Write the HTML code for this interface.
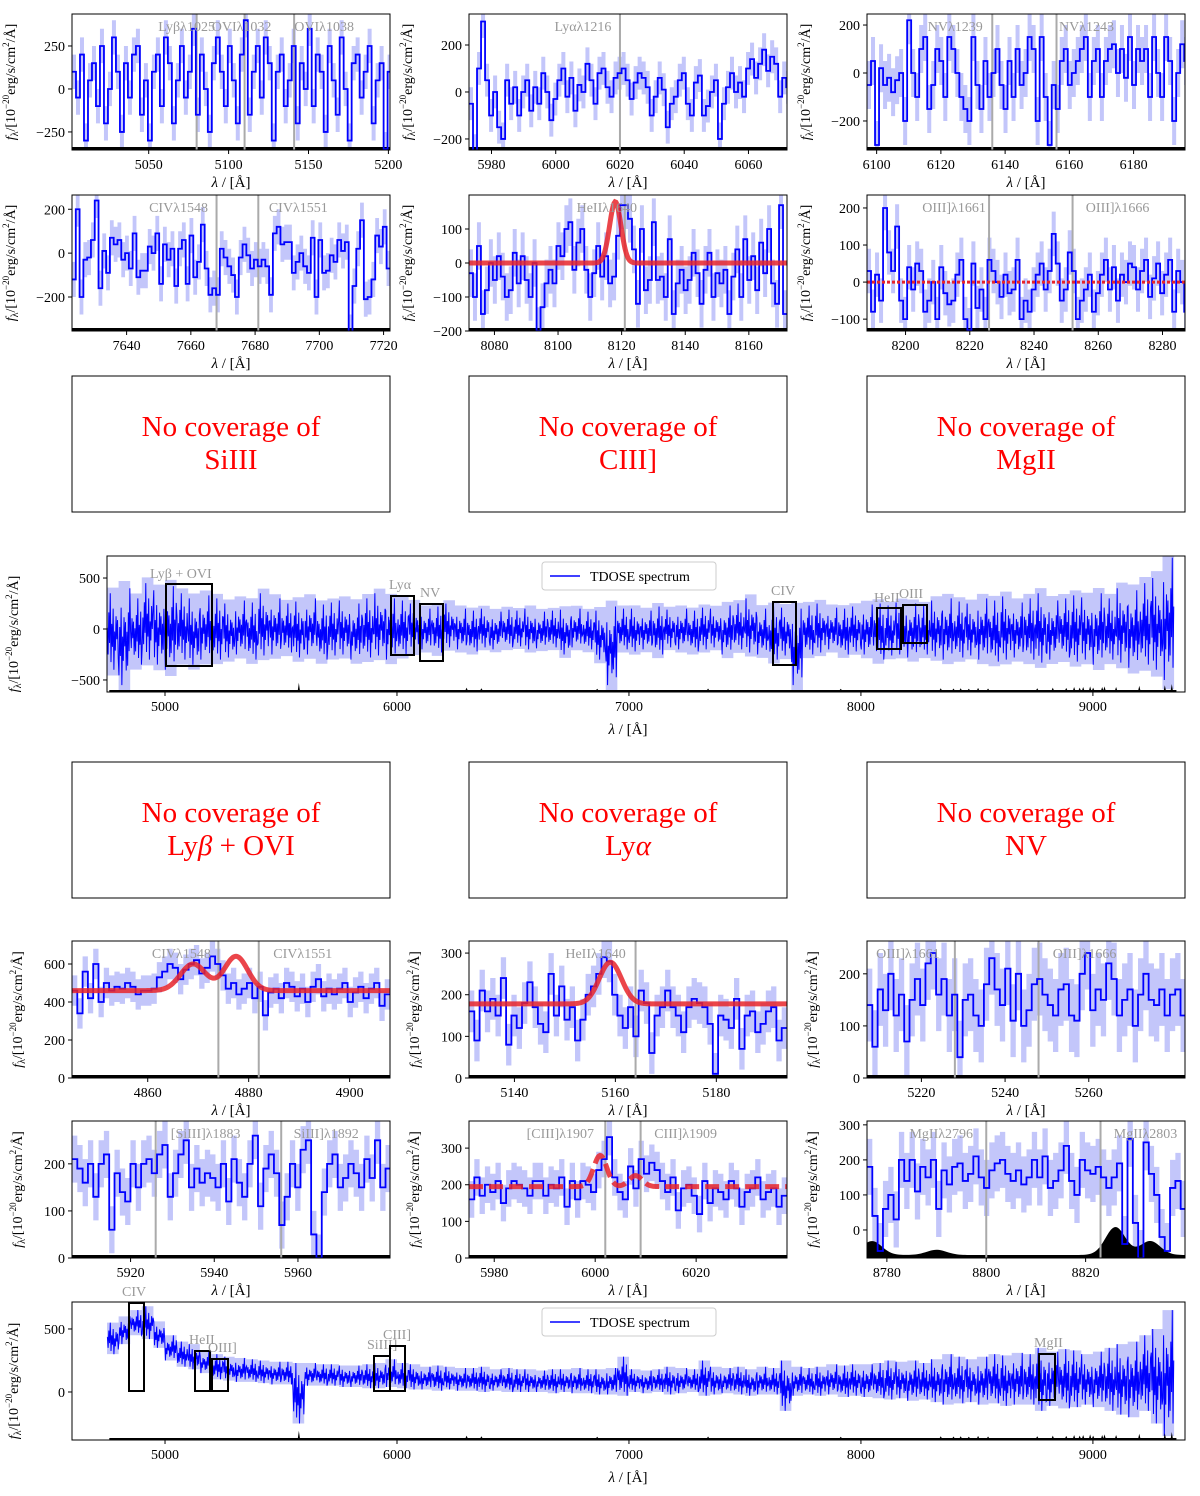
<!DOCTYPE html>
<html><head><meta charset="utf-8">
<style>
html,body{margin:0;padding:0;background:#fff;}
svg text{font-family:"Liberation Serif",serif;}
</style></head>
<body>
<svg id="fig" xmlns="http://www.w3.org/2000/svg" width="1200" height="1491" viewBox="0 0 1200 1491"></svg>
<script>
// ---------- data ----------
const p1Flux=[100,-50,200,-300,50,150,-100,250,-200,0,300,100,-250,150,-50,200,250,-150,50,-300,100,200,-100,300,150,-200,50,250,-50,100,350,-150,200,0,-250,150,300,100,-100,250,50,-200,200,400,-150,100,250,-50,300,150,-300,100,200,-100,50,250,-200,150,0,350,-100,200,100,-250,250,50,-150,300,0,-300,150,200,-50,100,250,-200,50,150,-350,100];
const p2Flux=[-50,-250,100,300,50,-100,0,-150,-200,50,-50,20,-100,0,50,-80,20,-50,80,0,-120,-30,50,100,-20,60,-80,30,0,120,50,-50,80,100,20,-20,60,80,100,50,-30,40,80,60,20,-100,-20,60,10,-150,-50,-20,50,80,-50,-100,40,70,-100,-60,0,50,-200,-50,20,80,0,40,-20,100,140,60,120,180,90,150,120,-20,60,20];
const p3Flux=[-50,50,-300,20,-50,-20,-80,-30,0,-200,220,0,-100,100,150,-150,-50,100,50,-100,150,100,0,-100,-150,-200,150,-50,-150,50,-100,0,100,-50,-150,50,-100,100,-50,0,150,100,-200,150,-100,-300,-50,-150,50,100,-50,0,50,100,150,-100,50,100,-100,50,100,120,0,100,-20,150,-50,100,50,100,-100,150,0,-100,150,50,-200,0,120,50];
const p4Flux=[-120,200,-200,-30,-20,60,240,-160,10,-90,70,40,60,-30,0,-70,90,-110,-80,-80,30,0,90,-140,40,-30,20,-150,20,60,-140,80,-110,-40,130,-70,-190,-160,-190,20,-20,-60,-100,-200,-20,40,-10,-70,-30,-60,-30,-60,-190,90,120,40,50,50,-90,-40,0,-60,-90,70,-200,60,-90,-80,-10,-40,60,10,50,-360,-150,20,150,-210,-200,-120,80,30,120,-70];
const p5Flux=[-30,-100,50,-150,-80,0,-50,20,-40,-100,-80,30,-60,20,-50,-100,0,-200,-130,-60,-20,-60,50,20,100,120,-20,60,100,-20,-100,-30,50,-40,20,-60,-40,80,170,170,130,40,-120,100,-80,-50,120,-50,-40,-100,70,-150,-60,-20,-80,-50,30,-30,-120,-20,30,-100,-30,-60,-20,-150,-40,40,-100,70,-50,20,-80,60,-30,100,-60,-120,170,-150];
const p6Flux=[30,-80,20,-50,200,80,30,150,-50,-100,40,-20,50,30,-80,-50,0,-100,40,-30,-60,-50,20,60,-100,-130,50,-70,-20,-100,60,30,0,-40,20,-30,-20,60,-100,-50,-80,-20,20,50,-20,30,130,50,-50,-20,80,30,-100,-50,-20,20,-80,-30,20,60,-20,40,-50,20,0,50,40,-20,30,60,-40,10,50,-30,20,60,-80,30,0,-80];
const p7Flux=[460,340,560,420,600,400,500,460,480,470,500,480,440,460,460,470,530,560,600,580,520,570,600,620,550,580,640,600,540,470,500,440,470,500,420,480,330,450,470,420,500,480,430,470,400,480,520,430,470,440,470,500,400,450,480,420,470,500,380,440];
const p8Flux=[160,90,210,160,190,150,240,80,150,120,180,230,170,130,110,250,150,220,140,170,90,140,200,220,250,290,280,200,150,120,170,100,210,180,60,150,170,210,170,150,110,170,190,180,170,130,10,150,140,120,190,70,150,160,110,130,160,170,90,120];
const p9Flux=[140,60,170,130,200,120,160,70,150,190,140,220,240,160,190,120,160,40,150,160,120,100,180,230,170,140,210,110,200,100,130,180,190,160,140,120,170,180,120,110,200,240,130,170,150,220,190,120,150,170,100,160,200,150,140,170,120,160,170,120];
const p10Flux=[210,190,160,200,130,200,220,60,180,140,120,200,150,200,210,180,220,240,130,180,220,250,150,190,160,180,170,150,200,120,210,160,130,200,260,110,190,220,180,70,130,200,150,230,250,50,0,140,200,220,150,170,200,180,150,210,170,250,150,190];
const p11Flux=[160,220,170,200,180,210,150,190,210,200,190,170,210,210,170,200,190,220,140,210,160,210,200,180,240,270,330,220,180,160,250,190,270,230,260,240,210,180,220,130,190,200,170,120,210,150,190,180,160,210,190,140,180,190,220,160,180,190,140,170];
const p12Flux=[180,40,-60,60,100,30,200,140,200,110,180,150,200,60,170,130,180,190,140,160,210,150,120,170,190,200,160,140,170,130,150,200,150,210,120,140,170,240,140,100,200,170,160,180,150,120,150,190,-40,260,20,-80,250,160,100,-20,-60,120,140,60];
// gaussian model params: centre, amplitude, sigma
const p5Model={base:0,cen:[8118],amp:[180],sig:[1.8]};
const p7Model={base:460,cen:[4869,4877.5],amp:[140,180],sig:[2.5,2.3]};
const p8Model={base:178,cen:[5159],amp:[100],sig:[2.2]};
const p11Model={base:195,cen:[6001,6008],amp:[85,30],sig:[1.3,1.3]};
// wide panels: per-50A-bin max/min
const w1Hi=[350,400,300,450,380,420,350,300,330,300,250,280,260,350,300,250,270,300,240,260,280,250,300,350,300,280,250,200,220,250,200,180,200,170,190,180,200,170,180,190,200,170,180,220,200,200,180,220,190,200,180,210,200,230,250,300,200,220,210,200,230,250,210,200,220,240,250,230,260,250,230,280,300,270,250,300,280,320,260,300,350,280,300,330,310,350,300,400,380,450,500,700];
const w1Lo=[-400,-550,-350,-300,-350,-400,-300,-350,-300,-300,-280,-250,-300,-260,-250,-230,-280,-250,-300,-260,-250,-300,-280,-260,-300,-250,-220,-200,-230,-180,-200,-220,-180,-200,-180,-170,-200,-190,-180,-250,-180,-200,-300,-550,-200,-220,-200,-250,-180,-200,-220,-200,-180,-250,-200,-230,-250,-300,-260,-550,-250,-230,-200,-250,-220,-250,-300,-260,-250,-280,-250,-270,-300,-280,-260,-300,-320,-300,-280,-300,-330,-300,-280,-320,-300,-350,-300,-330,-380,-350,-400,-500];
const w2Hi=[550,600,650,680,560,450,400,380,320,300,280,270,260,250,240,240,230,230,220,220,210,210,220,230,260,230,220,200,210,200,190,190,200,180,190,180,180,170,180,180,190,180,180,190,280,180,170,180,200,190,180,250,200,190,200,180,200,190,250,200,190,200,220,210,220,220,230,250,240,250,230,260,300,280,260,280,300,290,310,300,350,320,340,330,300,320,350,380,400,450,500,650];
const w2Lo=[300,380,450,420,350,250,200,180,150,100,90,80,80,70,60,60,-250,50,50,50,40,40,30,30,40,30,20,20,10,20,10,10,0,10,0,0,0,0,-10,0,-10,-10,-20,-20,-30,0,-10,0,-20,-10,0,-30,-20,-10,-20,-30,-20,-20,-150,-30,-20,-30,-20,-40,-30,-40,-50,-60,-50,-70,-60,-80,-100,-90,-80,-100,-90,-110,-100,-100,-150,-110,-130,-120,-100,-120,-150,-180,-200,-150,-250,-350];
const skyLines=[5577,6300,6364,6863,7341,7913,8344,8399,8430,8465,8505,8548,8760,8827,8885,8919,8943,8958,8988,9001,9040,9050,9100,9200,9310,9340];
const skyHeights=[60,20,15,10,12,10,15,12,15,10,18,12,15,20,18,25,20,25,30,20,25,30,25,35,40,50];
const p12SkyW=[8777,8790,8826,8833];
const p12SkyH=[40,15,80,40];

// ---------- helpers ----------
const NS='http://www.w3.org/2000/svg';
const svg=document.getElementById('fig');
function mk(tag,attrs,parent){const e=document.createElementNS(NS,tag);for(const k in attrs)e.setAttribute(k,attrs[k]);(parent||svg).appendChild(e);return e;}
let clipId=0;
// jitter shape within each bin (rendering style for dense noise, fraction between bin min/max)
const JIT=[0.55,0.2,0.75,0.35,1.0,0.1,0.6,0.3,0.8,0.0,0.5,0.25,0.7,0.4,0.65,0.15];
function yLabel(x,yc){
  const t=mk('text',{x:0,y:0,'font-size':14,'text-anchor':'middle',transform:`translate(${x},${yc}) rotate(-90)`});
  
  
  t.innerHTML='<tspan font-style="italic">f</tspan><tspan font-size="10" dy="3">λ</tspan><tspan dy="-3">/[10</tspan><tspan font-size="9" dy="-6">−20</tspan><tspan dy="6">erg/s/cm</tspan><tspan font-size="9" dy="-6">2</tspan><tspan dy="6">/Å]</tspan>';
}
function xLabel(xc,y){
  const t=mk('text',{x:xc,y:y,'font-size':15,'text-anchor':'middle'});
  
  
  t.innerHTML='<tspan font-style="italic">λ</tspan> / [Å]';
}
function axes(P){
  const X=v=>P.x0+(v-P.xa)/(P.xb-P.xa)*(P.x1-P.x0);
  const Y=v=>P.y1-(v-P.ya)/(P.yb-P.ya)*(P.y1-P.y0);
  return [X,Y];
}
function frameTicks(P,X,Y,g){
  const fr=mk('rect',{x:P.x0,y:P.y0,width:P.x1-P.x0,height:P.y1-P.y0,fill:'none',stroke:'#000','stroke-width':1},g);
  
  
  P.xt.forEach(v=>{
    const tk=mk('line',{x1:X(v),x2:X(v),y1:P.y1,y2:P.y1+4,stroke:'#000'},g);
    
    
    const tl=mk('text',{x:X(v),y:P.y1+19,'font-size':14,'text-anchor':'middle'},g);
    
    
    tl.textContent=v;
  });
  P.yt.forEach(v=>{
    const tk=mk('line',{x1:P.x0-4,x2:P.x0,y1:Y(v),y2:Y(v),stroke:'#000'},g);
    
    
    const tl=mk('text',{x:P.x0-7,y:Y(v)+5,'font-size':14,'text-anchor':'end'},g);
    
    
    tl.textContent=v<0?'−'+(-v):v;
  });
}
function clip(P,g){
  const id='c'+(clipId++);
  const cp=mk('clipPath',{id:id},g);
  mk('rect',{x:P.x0,y:P.y0,width:P.x1-P.x0,height:P.y1-P.y0},cp);
  return mk('g',{'clip-path':`url(#${id})`},g);
}
function drawPanel(P){
  const g=mk('g',{});
  
  
  const [X,Y]=axes(P);
  const c=clip(P,g);
  let up='',dn=[];
  P.flux.forEach((f,i)=>{const a=X(P.start+i*P.step),b=X(P.start+(i+1)*P.step);
    up+=(i?'L':'M')+a+','+Y(f+P.err)+'L'+b+','+Y(f+P.err);
    dn.unshift('L'+b+','+Y(f-P.err)+'L'+a+','+Y(f-P.err));});
  const band=mk('path',{d:up+dn.join('')+'Z',fill:'#c3c6fa',stroke:'none'},c);
  
  
  let sk='M'+P.x0+','+P.y1;
  if(P.skyW){
    for(let px=P.x0;px<=P.x1;px+=2){const w=P.xa+(px-P.x0)/(P.x1-P.x0)*(P.xb-P.xa);let h=3;
      P.skyW.forEach((s,k)=>{h+=P.skyH[k]*Math.exp(-0.5*((w-s)/2)**2)*0.35;});sk+='L'+px+','+(P.y1-h);}
  } else { sk+='L'+P.x0+','+(P.y1-3)+'L'+P.x1+','+(P.y1-3); }
  sk+='L'+P.x1+','+P.y1+'Z';
  const sky=mk('path',{d:sk,fill:'#000'},c);
  
  
  P.lines.forEach(L=>{
    const ln=mk('line',{x1:X(L.w),x2:X(L.w),y1:P.y0,y2:P.y1,stroke:'#aaa','stroke-width':2},c);
    
    
  });
  let d='';
  P.flux.forEach((f,i)=>{const a=X(P.start+i*P.step),b=X(P.start+(i+1)*P.step);d+=(i?'L':'M')+a+','+Y(f)+'L'+b+','+Y(f);});
  const fl=mk('path',{d:d,fill:'none',stroke:'#0000ff','stroke-width':1.8},c);
  
  
  if(P.model){
    let md='';
    for(let px=P.x0;px<=P.x1;px+=1){const w=P.xa+(px-P.x0)/(P.x1-P.x0)*(P.xb-P.xa);let v=P.model.base;
      P.model.cen.forEach((cc,k)=>{v+=P.model.amp[k]*Math.exp(-0.5*((w-cc)/P.model.sig[k])**2);});
      md+=(px===P.x0?'M':'L')+px+','+Y(v);}
    const m=mk('path',{d:md,fill:'none',stroke:'#e8242a','stroke-width':5,'stroke-opacity':0.85,'stroke-dasharray':P.dash||'none'},c);
    
    
  }
  if(P.zeroDot){
    const z=mk('line',{x1:P.x0,x2:P.x1,y1:Y(0),y2:Y(0),stroke:'#e8242a','stroke-width':3,'stroke-dasharray':'3 2'},c);
    
    
  }
  P.lines.forEach(L=>{
    const t=mk('text',{x:X(L.w)+(L.dx||0),y:P.y0+17,'font-size':14,fill:'#999','text-anchor':L.anchor||'middle'},g);
    
    
    t.innerHTML=L.label;
  });
  frameTicks(P,X,Y,g);
  yLabel(P.x0-(P.ylx||57),(P.y0+P.y1)/2);
  xLabel((P.x0+P.x1)/2,P.y1+37);
}
function drawWide(P){
  const g=mk('g',{});
  
  
  const [X,Y]=axes(P);
  const c=clip(P,g);
  const bw=50;
  // error band (narrower, around bin range)
  let up='',dn=[];
  P.hi.forEach((h,i)=>{const mid=(h+P.lo[i])/2,half=(h-P.lo[i])/2*P.bandF;
    const a=X(4750+i*bw),b=X(4750+(i+1)*bw);up+=(i?'L':'M')+a+','+Y(mid+half)+'L'+b+','+Y(mid+half);
    dn.unshift('L'+b+','+Y(mid-half)+'L'+a+','+Y(mid-half));});
  const band=mk('path',{d:up+dn.join('')+'Z',fill:'#c3c6fa'},c);
  
  
  let d='',n=0;
  P.hi.forEach((h,i)=>{const a=4750+i*bw,lo=P.lo[i];
    for(let k=0;k<JIT.length;k++){const f=JIT[(k+i*5)%JIT.length];
      d+=(n++?'L':'M')+X(a+bw*(k+0.5)/JIT.length)+','+Y(lo+(h-lo)*f);}});
  const fl=mk('path',{d:d,fill:'none',stroke:'#0000ff','stroke-width':1},c);
  
  
  let sk='M'+X(4760)+','+P.y1+'L'+X(4760)+','+(P.y1-2);
  skyLines.forEach((s,k)=>{sk+='L'+(X(s)-1)+','+(P.y1-2)+'L'+X(s)+','+(P.y1-2-skyHeights[k]*0.12)+'L'+(X(s)+1)+','+(P.y1-2);});
  sk+='L'+X(9360)+','+(P.y1-2)+'L'+X(9360)+','+P.y1+'Z';
  const sky=mk('path',{d:sk,fill:'#000'},c);
  
  
  P.boxes.forEach(B=>{
    const r=mk('rect',{x:B.x,y:B.y,width:B.w,height:B.h,fill:'none',stroke:'#000','stroke-width':2},g);
    
    
    const t=mk('text',{x:B.lx,y:B.ly,'font-size':14,fill:'#999'},g);
    
    
    t.innerHTML=B.label;
  });
  const lg=mk('rect',{x:542,y:P.y0+6,width:174,height:28,fill:'#fff',stroke:'#ccc',rx:3},g);
  
  
  const ll=mk('line',{x1:550,x2:580,y1:P.y0+20,y2:P.y0+20,stroke:'#0000ff','stroke-width':1.5},g);
  
  
  const lt=mk('text',{x:590,y:P.y0+25,'font-size':14},g);
  
  
  lt.textContent='TDOSE spectrum';
  frameTicks(P,X,Y,g);
  yLabel(18,(P.y0+P.y1)/2+10);
  xLabel(628,P.y1+42);
}
function noCov(x,y,l2){
  const r=mk('rect',{x:x,y:y,width:318,height:136,fill:'#fff',stroke:'#000'});
  
  
  const t1=mk('text',{x:x+159,y:y+60,'font-size':29,fill:'#ff0000','text-anchor':'middle'});
  
  
  t1.textContent='No coverage of';
  const t2=mk('text',{x:x+159,y:y+93,'font-size':29,fill:'#ff0000','text-anchor':'middle'});
  
  
  t2.innerHTML=l2;
}
// ---------- panels ----------
drawPanel({name:'panel-lyb-ovi',x0:72,x1:390,y0:14,y1:150,xa:5002,xb:5201,ya:-355,yb:436,xt:[5050,5100,5150,5200],yt:[-250,0,250],flux:p1Flux,start:5002,step:2.5,err:100,ylx:57,
  lines:[{w:5080,label:'Lyβλ1025',dx:-10},{w:5110,label:'OVIλ1032',dx:-3},{w:5141,label:'OVIλ1038',dx:30}]});
drawPanel({name:'panel-lya',x0:469,x1:787,y0:14,y1:150,xa:5973,xb:6072,ya:-247,yb:332,xt:[5980,6000,6020,6040,6060],yt:[-200,0,200],flux:p2Flux,start:5973,step:1.25,err:70,ylx:57,
  lines:[{w:6020,label:'Lyαλ1216',dx:-37}]});
drawPanel({name:'panel-nv',x0:867,x1:1185,y0:14,y1:150,xa:6097,xb:6196,ya:-321,yb:246,xt:[6100,6120,6140,6160,6180],yt:[-200,0,200],flux:p3Flux,start:6097,step:1.25,err:100,ylx:57,
  lines:[{w:6136,label:'NVλ1239',dx:-37},{w:6156,label:'NVλ1243',dx:30}]});
drawPanel({name:'panel-civ',x0:72,x1:390,y0:195,y1:331,xa:7623,xb:7722,ya:-355,yb:265,xt:[7640,7660,7680,7700,7720],yt:[-200,0,200],flux:p4Flux,start:7623,step:1.18,err:80,ylx:57,
  lines:[{w:7668,label:'CIVλ1548',dx:-38},{w:7681,label:'CIVλ1551',dx:40}]});
drawPanel({name:'panel-heii',x0:469,x1:787,y0:195,y1:331,xa:8072,xb:8172,ya:-200,yb:200,xt:[8080,8100,8120,8140,8160],yt:[-200,-100,0,100],flux:p5Flux,start:8072,step:1.25,err:70,ylx:57,model:p5Model,
  lines:[{w:8121,label:'HeIIλ1640',dx:-18}]});
drawPanel({name:'panel-oiii',x0:867,x1:1185,y0:195,y1:331,xa:8188,xb:8287,ya:-132,yb:235,xt:[8200,8220,8240,8260,8280],yt:[-100,0,100,200],flux:p6Flux,start:8188,step:1.25,err:60,ylx:57,zeroDot:true,
  lines:[{w:8226,label:'OIII]λ1661',dx:-35},{w:8252,label:'OIII]λ1666',dx:45}]});
noCov(72,376,'SiIII');
noCov(469,376,'CIII]');
noCov(867,376,'MgII');
drawWide({name:'full-spectrum-1',x0:107,x1:1185,y0:556,y1:692,xa:4750,xb:9397,ya:-618,yb:716,xt:[5000,6000,7000,8000,9000],yt:[-500,0,500],hi:w1Hi,lo:w1Lo,bandF:1.15,
  boxes:[{x:166,y:584,w:46,h:82,label:'Lyβ + OVI',lx:150,ly:578},{x:391,y:596,w:23,h:59,label:'Lyα',lx:389,ly:589},{x:420,y:604,w:23,h:57,label:'NV',lx:420,ly:597},
  {x:773,y:602,w:23,h:63,label:'CIV',lx:771,ly:595},{x:877,y:608,w:24,h:41,label:'HeII',lx:874,ly:602},{x:903,y:605,w:24,h:38,label:'OIII',lx:899,ly:598}]});
noCov(72,762,'Ly<tspan font-style="italic">β</tspan> + OVI');
noCov(469,762,'Ly<tspan font-style="italic">α</tspan>');
noCov(867,762,'NV');
drawPanel({name:'panel-civ-2',x0:72,x1:390,y0:941,y1:1078,xa:4845,xb:4908,ya:0,yb:721,xt:[4860,4880,4900],yt:[0,200,400,600],flux:p7Flux,start:4845,step:1.05,err:80,ylx:50,model:p7Model,
  lines:[{w:4874,label:'CIVλ1548',dx:-37},{w:4882,label:'CIVλ1551',dx:44}]});
drawPanel({name:'panel-heii-2',x0:469,x1:787,y0:941,y1:1078,xa:5131,xb:5194,ya:0,yb:329,xt:[5140,5160,5180],yt:[0,100,200,300],flux:p8Flux,start:5131,step:1.05,err:50,ylx:50,model:p8Model,
  lines:[{w:5164,label:'HeIIλ1640',dx:-40}]});
drawPanel({name:'panel-oiii-2',x0:867,x1:1185,y0:941,y1:1078,xa:5207,xb:5283,ya:0,yb:263,xt:[5220,5240,5260],yt:[0,100,200],flux:p9Flux,start:5207,step:1.27,err:70,ylx:50,
  lines:[{w:5228,label:'OIII]λ1661',dx:-47},{w:5248,label:'OIII]λ1666',dx:46}]});
drawPanel({name:'panel-siiii',x0:72,x1:390,y0:1121,y1:1258,xa:5906,xb:5982,ya:0,yb:291,xt:[5920,5940,5960],yt:[0,100,200],flux:p10Flux,start:5906,step:1.27,err:50,ylx:50,
  lines:[{w:5926,label:'[SiIII]λ1883',dx:50},{w:5956,label:'SiIII]λ1892',dx:45}]});
drawPanel({name:'panel-ciii',x0:469,x1:787,y0:1121,y1:1258,xa:5975,xb:6038,ya:0,yb:374,xt:[5980,6000,6020],yt:[0,100,200,300],flux:p11Flux,start:5975,step:1.05,err:50,ylx:50,model:p11Model,dash:'14 6',
  lines:[{w:6002,label:'[CIII]λ1907',dx:-45},{w:6009,label:'CIII]λ1909',dx:45}]});
drawPanel({name:'panel-mgii',x0:867,x1:1185,y0:1121,y1:1258,xa:8776,xb:8840,ya:-80,yb:311,xt:[8780,8800,8820],yt:[0,100,200,300],flux:p12Flux,start:8776,step:1.07,err:80,ylx:50,skyW:p12SkyW,skyH:p12SkyH,
  lines:[{w:8800,label:'MgIIλ2796',dx:-45},{w:8823,label:'MgIIλ2803',dx:45}]});
drawWide({name:'full-spectrum-2',x0:72,x1:1185,y0:1302,y1:1440,xa:4599,xb:9397,ya:-381,yb:714,xt:[5000,6000,7000,8000,9000],yt:[0,500],hi:w2Hi,lo:w2Lo,bandF:1.0,
  boxes:[{x:129,y:1303,w:15,h:88,label:'CIV',lx:122,ly:1296},{x:195,y:1351,w:15,h:40,label:'HeII',lx:189,ly:1344},{x:212,y:1359,w:16,h:32,label:'OIII]',lx:208,ly:1352},
  {x:374,y:1356,w:16,h:35,label:'SiIII]',lx:367,ly:1349},{x:390,y:1346,w:15,h:45,label:'CIII]',lx:383,ly:1339},{x:1039,y:1354,w:16,h:46,label:'MgII',lx:1034,ly:1347}]});
</script>
</body></html>
